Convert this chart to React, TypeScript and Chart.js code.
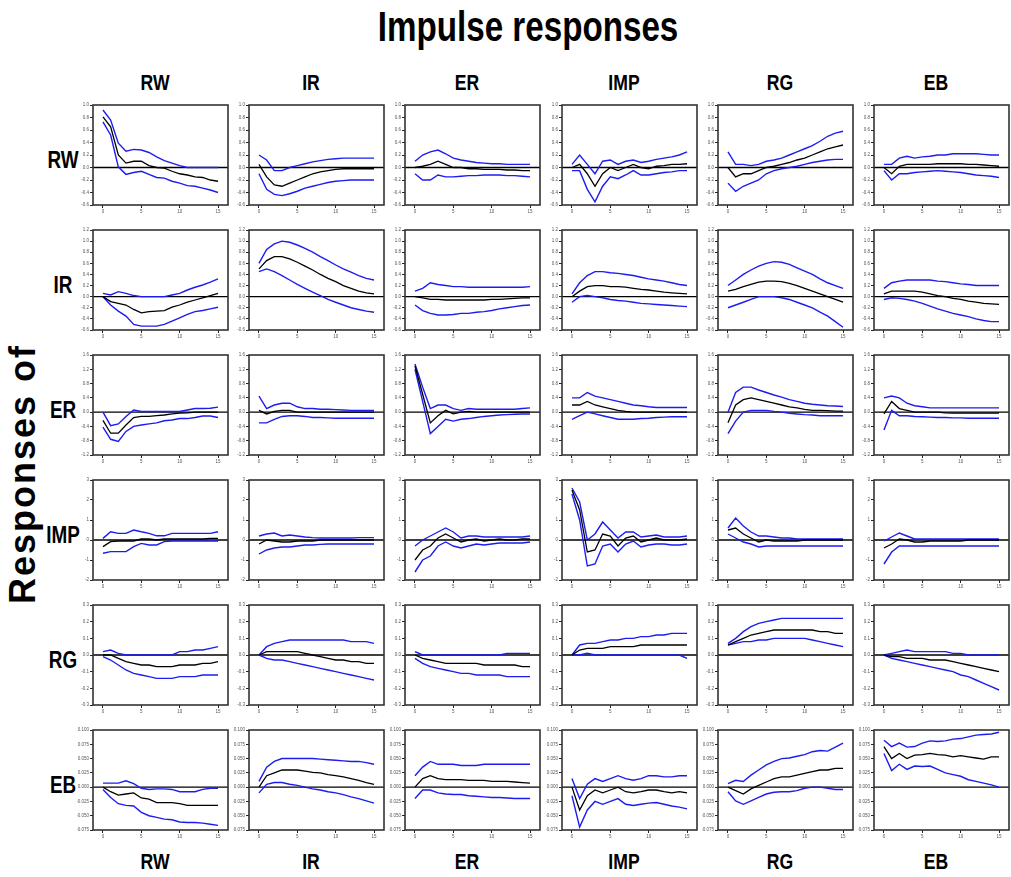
import React, { useEffect, useRef } from "react";
import { Chart, registerables } from "chart.js";
Chart.register(...registerables);

// ---------- labels / ticks ----------
const variables = ["RW", "IR", "ER", "IMP", "RG", "EB"];
const steps = [0, 1, 2, 3, 4, 5, 6, 7, 8, 9, 10, 11, 12, 13, 14, 15];
const xTickValues = [0, 5, 10, 15];
const yTicksRW = [-0.6, -0.4, -0.2, 0, 0.2, 0.4, 0.6, 0.8, 1.0];
const yTicksIR = [-0.6, -0.4, -0.2, 0, 0.2, 0.4, 0.6, 0.8, 1.0, 1.2];
const yTicksER = [-1.2, -0.8, -0.4, 0, 0.4, 0.8, 1.2, 1.6];
const yTicksIMP = [-2, -1, 0, 1, 2, 3];
const yTicksRG = [-0.3, -0.2, -0.1, 0, 0.1, 0.2, 0.3];
const yTicksEB = [-0.075, -0.05, -0.025, 0, 0.025, 0.05, 0.075, 0.1];
const yTickDecimals = [1, 1, 1, 0, 1, 3];

// ---------- responses of RW ----------
const RW_RW_hi = [0.92, 0.76, 0.39, 0.26, 0.29, 0.28, 0.24, 0.17, 0.11, 0.07, 0.03, 0, 0, 0, 0, 0];
const RW_RW_mid = [0.81, 0.65, 0.2, 0.07, 0.1, 0.1, 0.03, 0, -0.01, -0.06, -0.1, -0.12, -0.15, -0.16, -0.2, -0.22];
const RW_RW_lo = [0.73, 0.52, 0.01, -0.11, -0.08, -0.06, -0.11, -0.16, -0.17, -0.22, -0.25, -0.29, -0.3, -0.33, -0.36, -0.4];
const RW_IR_hi = [0.2, 0.12, -0.05, -0.05, 0, 0.03, 0.06, 0.09, 0.11, 0.13, 0.14, 0.15, 0.15, 0.15, 0.15, 0.15];
const RW_IR_mid = [0.05, -0.15, -0.28, -0.3, -0.25, -0.2, -0.15, -0.1, -0.07, -0.05, -0.03, -0.02, -0.02, -0.02, -0.02, -0.02];
const RW_IR_lo = [-0.1, -0.35, -0.43, -0.45, -0.42, -0.38, -0.33, -0.3, -0.27, -0.24, -0.22, -0.21, -0.2, -0.2, -0.2, -0.2];
const RW_ER_hi = [0.1, 0.2, 0.25, 0.28, 0.22, 0.15, 0.12, 0.1, 0.08, 0.07, 0.06, 0.06, 0.05, 0.05, 0.05, 0.05];
const RW_ER_mid = [0, 0.02, 0.05, 0.1, 0.05, 0, 0, -0.02, -0.02, -0.03, -0.03, -0.03, -0.04, -0.04, -0.05, -0.05];
const RW_ER_lo = [-0.1, -0.2, -0.2, -0.12, -0.15, -0.15, -0.14, -0.13, -0.13, -0.12, -0.12, -0.12, -0.13, -0.13, -0.14, -0.15];
const RW_IMP_hi = [0.05, 0.2, 0.05, -0.1, 0.1, 0.12, 0.05, 0.1, 0.12, 0.08, 0.1, 0.13, 0.15, 0.17, 0.2, 0.25];
const RW_IMP_mid = [0, 0.05, -0.1, -0.3, -0.1, 0, -0.05, 0, 0.05, 0, -0.02, 0.02, 0.03, 0.05, 0.05, 0.06];
const RW_IMP_lo = [-0.05, -0.05, -0.35, -0.55, -0.3, -0.15, -0.18, -0.12, -0.05, -0.12, -0.12, -0.1, -0.08, -0.07, -0.05, -0.05];
const RW_RG_hi = [0.25, 0.05, 0.05, 0.03, 0.05, 0.1, 0.12, 0.15, 0.2, 0.25, 0.3, 0.35, 0.42, 0.5, 0.55, 0.58];
const RW_RG_mid = [0, -0.15, -0.1, -0.1, -0.05, 0, 0.02, 0.05, 0.08, 0.12, 0.15, 0.2, 0.25, 0.3, 0.33, 0.36];
const RW_RG_lo = [-0.25, -0.38, -0.3, -0.25, -0.2, -0.1, -0.05, -0.02, 0, 0.02, 0.05, 0.08, 0.1, 0.12, 0.13, 0.13];
const RW_EB_hi = [0.05, 0.05, 0.15, 0.18, 0.15, 0.17, 0.18, 0.2, 0.2, 0.22, 0.22, 0.22, 0.22, 0.21, 0.2, 0.2];
const RW_EB_mid = [0, -0.1, 0.02, 0.05, 0.05, 0.05, 0.05, 0.06, 0.06, 0.06, 0.06, 0.05, 0.05, 0.04, 0.03, 0.02];
const RW_EB_lo = [-0.05, -0.2, -0.1, -0.1, -0.08, -0.07, -0.06, -0.05, -0.06, -0.07, -0.08, -0.1, -0.12, -0.13, -0.14, -0.16];

// ---------- responses of IR ----------
const IR_RW_hi = [0.06, 0.03, 0.09, 0.06, 0.02, 0, 0, 0, 0, 0.03, 0.06, 0.12, 0.17, 0.21, 0.26, 0.32];
const IR_RW_mid = [0, -0.09, -0.12, -0.15, -0.23, -0.29, -0.27, -0.26, -0.25, -0.19, -0.15, -0.1, -0.06, -0.02, 0.02, 0.06];
const IR_RW_lo = [0, -0.15, -0.26, -0.35, -0.5, -0.53, -0.53, -0.53, -0.5, -0.44, -0.38, -0.32, -0.27, -0.25, -0.22, -0.19];
const IR_IR_hi = [0.6, 0.85, 0.95, 1.0, 0.98, 0.93, 0.87, 0.8, 0.72, 0.65, 0.57, 0.5, 0.44, 0.38, 0.33, 0.3];
const IR_IR_mid = [0.5, 0.65, 0.72, 0.72, 0.68, 0.62, 0.55, 0.48, 0.4, 0.33, 0.27, 0.2, 0.15, 0.1, 0.07, 0.05];
const IR_IR_lo = [0.45, 0.5, 0.45, 0.38, 0.3, 0.22, 0.15, 0.08, 0.02, -0.05, -0.1, -0.15, -0.2, -0.23, -0.26, -0.28];
const IR_ER_hi = [0.1, 0.15, 0.25, 0.22, 0.2, 0.18, 0.18, 0.17, 0.17, 0.17, 0.17, 0.17, 0.17, 0.17, 0.17, 0.18];
const IR_ER_mid = [0, -0.02, -0.05, -0.05, -0.06, -0.06, -0.06, -0.06, -0.06, -0.06, -0.05, -0.05, -0.04, -0.03, -0.02, -0.02];
const IR_ER_lo = [-0.15, -0.25, -0.3, -0.33, -0.33, -0.32, -0.3, -0.3, -0.28, -0.27, -0.25, -0.22, -0.2, -0.18, -0.16, -0.15];
const IR_IMP_hi = [0.05, 0.25, 0.38, 0.45, 0.45, 0.43, 0.42, 0.4, 0.38, 0.35, 0.32, 0.3, 0.28, 0.25, 0.22, 0.2];
const IR_IMP_mid = [0, 0.1, 0.18, 0.2, 0.2, 0.18, 0.18, 0.17, 0.15, 0.13, 0.12, 0.1, 0.08, 0.07, 0.06, 0.05];
const IR_IMP_lo = [-0.1, 0, 0.02, 0, -0.02, -0.05, -0.07, -0.08, -0.1, -0.12, -0.13, -0.14, -0.15, -0.16, -0.17, -0.18];
const IR_RG_hi = [0.2, 0.3, 0.4, 0.48, 0.55, 0.6, 0.63, 0.62, 0.58, 0.52, 0.46, 0.4, 0.32, 0.25, 0.2, 0.15];
const IR_RG_mid = [0.1, 0.13, 0.18, 0.22, 0.26, 0.28, 0.28, 0.27, 0.24, 0.2, 0.15, 0.1, 0.05, 0, -0.05, -0.1];
const IR_RG_lo = [-0.2, -0.15, -0.1, -0.05, 0, 0, 0, -0.02, -0.05, -0.1, -0.15, -0.2, -0.28, -0.35, -0.45, -0.55];
const IR_EB_hi = [0.15, 0.25, 0.28, 0.3, 0.3, 0.3, 0.3, 0.28, 0.27, 0.25, 0.23, 0.22, 0.2, 0.2, 0.2, 0.2];
const IR_EB_mid = [0.05, 0.1, 0.1, 0.1, 0.1, 0.08, 0.05, 0.02, 0, -0.03, -0.05, -0.08, -0.1, -0.12, -0.13, -0.14];
const IR_EB_lo = [-0.05, -0.02, -0.03, -0.05, -0.08, -0.12, -0.17, -0.22, -0.26, -0.3, -0.33, -0.36, -0.4, -0.43, -0.45, -0.45];

// ---------- responses of ER ----------
const ER_RW_hi = [0, -0.38, -0.33, -0.12, 0.06, 0.02, 0.02, 0.02, 0.02, 0.02, 0.02, 0.06, 0.1, 0.1, 0.11, 0.14];
const ER_RW_mid = [-0.23, -0.59, -0.59, -0.36, -0.15, -0.12, -0.12, -0.1, -0.08, -0.05, -0.03, -0.02, 0, 0, 0, 0];
const ER_RW_lo = [-0.42, -0.76, -0.82, -0.54, -0.4, -0.36, -0.33, -0.3, -0.24, -0.22, -0.18, -0.18, -0.15, -0.11, -0.11, -0.15];
const ER_IR_hi = [0.45, 0.1, 0.2, 0.25, 0.25, 0.15, 0.1, 0.1, 0.08, 0.08, 0.07, 0.06, 0.05, 0.05, 0.05, 0.05];
const ER_IR_mid = [0.05, -0.05, 0.02, 0.05, 0.05, 0, 0, 0, 0, 0, 0, 0, 0, 0, 0, 0];
const ER_IR_lo = [-0.3, -0.3, -0.2, -0.12, -0.1, -0.1, -0.12, -0.15, -0.15, -0.16, -0.17, -0.17, -0.17, -0.17, -0.17, -0.17];
const ER_ER_hi = [1.35, 0.7, 0.1, 0.2, 0.2, 0.1, 0.05, 0.1, 0.08, 0.08, 0.08, 0.08, 0.08, 0.08, 0.1, 0.12];
const ER_ER_mid = [1.3, 0.5, -0.3, -0.1, 0.05, -0.05, 0, 0.02, 0, 0, 0, 0, 0, 0, 0, 0];
const ER_ER_lo = [1.2, 0.3, -0.6, -0.4, -0.2, -0.25, -0.2, -0.18, -0.15, -0.12, -0.1, -0.08, -0.07, -0.06, -0.05, -0.05];
const ER_IMP_hi = [0.4, 0.4, 0.55, 0.45, 0.4, 0.35, 0.3, 0.25, 0.2, 0.18, 0.15, 0.13, 0.13, 0.13, 0.13, 0.13];
const ER_IMP_mid = [0.2, 0.2, 0.3, 0.2, 0.15, 0.1, 0.05, 0.02, 0, 0, 0, 0, 0, 0, 0, 0];
const ER_IMP_lo = [-0.2, -0.1, 0, -0.05, -0.1, -0.15, -0.2, -0.2, -0.2, -0.18, -0.17, -0.15, -0.14, -0.13, -0.13, -0.13];
const ER_RG_hi = [0, 0.55, 0.7, 0.7, 0.62, 0.55, 0.48, 0.42, 0.35, 0.3, 0.25, 0.22, 0.2, 0.18, 0.17, 0.16];
const ER_RG_mid = [-0.3, 0.2, 0.35, 0.4, 0.35, 0.3, 0.25, 0.2, 0.15, 0.12, 0.08, 0.05, 0.05, 0.04, 0.03, 0.03];
const ER_RG_lo = [-0.6, -0.25, 0, 0.05, 0.05, 0.05, 0.02, 0, -0.03, -0.05, -0.07, -0.08, -0.1, -0.1, -0.1, -0.1];
const ER_EB_hi = [0.4, 0.45, 0.4, 0.25, 0.18, 0.15, 0.12, 0.12, 0.12, 0.12, 0.12, 0.12, 0.12, 0.12, 0.12, 0.12];
const ER_EB_mid = [-0.05, 0.3, 0.1, 0.05, 0, 0, 0, 0, -0.02, -0.03, -0.03, -0.03, -0.03, -0.03, -0.03, -0.03];
const ER_EB_lo = [-0.5, 0.05, -0.1, -0.1, -0.12, -0.13, -0.14, -0.15, -0.15, -0.16, -0.16, -0.17, -0.17, -0.17, -0.17, -0.17];

// ---------- responses of IMP ----------
const IMP_RW_hi = [0.08, 0.41, 0.33, 0.33, 0.5, 0.41, 0.33, 0.21, 0.21, 0.33, 0.33, 0.33, 0.33, 0.33, 0.33, 0.41];
const IMP_RW_mid = [-0.33, -0.08, -0.05, -0.05, -0.05, 0.05, 0.05, 0, 0.05, 0.05, 0.05, 0.05, 0.05, 0.05, 0.08, 0.08];
const IMP_RW_lo = [-0.66, -0.58, -0.58, -0.58, -0.33, -0.17, -0.25, -0.25, -0.08, -0.05, -0.05, -0.05, -0.05, -0.05, -0.05, -0.05];
const IMP_IR_hi = [0.2, 0.3, 0.35, 0.2, 0.25, 0.2, 0.15, 0.12, 0.1, 0.1, 0.1, 0.1, 0.1, 0.12, 0.12, 0.12];
const IMP_IR_mid = [-0.2, 0, -0.05, -0.1, -0.1, -0.05, -0.05, -0.05, 0, 0, 0, 0, 0, 0, 0, 0];
const IMP_IR_lo = [-0.7, -0.5, -0.4, -0.35, -0.35, -0.3, -0.25, -0.25, -0.22, -0.2, -0.2, -0.2, -0.2, -0.2, -0.2, -0.2];
const IMP_ER_hi = [-0.3, 0, 0.2, 0.4, 0.6, 0.4, 0.1, 0.2, 0.2, 0.15, 0.15, 0.15, 0.15, 0.15, 0.15, 0.2];
const IMP_ER_mid = [-1.0, -0.5, -0.3, 0.1, 0.3, 0.1, -0.1, 0, 0.05, -0.05, 0, 0.05, 0, 0, 0.05, 0.05];
const IMP_ER_lo = [-1.6, -1.0, -0.8, -0.3, -0.1, -0.3, -0.4, -0.3, -0.2, -0.25, -0.2, -0.15, -0.15, -0.15, -0.15, -0.1];
const IMP_IMP_hi = [2.6, 1.9, 0, 0.3, 0.9, 0.5, 0.1, 0.4, 0.4, 0.15, 0.2, 0.25, 0.15, 0.15, 0.15, 0.2];
const IMP_IMP_mid = [2.5, 1.5, -0.6, -0.5, 0.3, 0.2, -0.3, 0.1, 0.2, -0.1, 0, 0.1, 0, 0, 0, 0.05];
const IMP_IMP_lo = [2.3, 1.0, -1.3, -1.2, -0.3, -0.2, -0.6, -0.2, -0.05, -0.35, -0.25, -0.2, -0.2, -0.25, -0.25, -0.2];
const IMP_RG_hi = [0.6, 1.1, 0.7, 0.4, 0.2, 0.2, 0.15, 0.1, 0.1, 0.05, 0.05, 0.05, 0.05, 0.05, 0.05, 0.05];
const IMP_RG_mid = [0.5, 0.6, 0.3, 0.1, -0.1, 0, -0.05, -0.05, -0.05, -0.05, 0, 0, 0, 0, 0, 0];
const IMP_RG_lo = [0.3, 0.1, -0.1, -0.2, -0.35, -0.3, -0.3, -0.3, -0.3, -0.3, -0.3, -0.3, -0.3, -0.3, -0.3, -0.3];
const IMP_EB_hi = [-0.05, 0.15, 0.35, 0.2, 0.05, 0.05, 0.05, 0.05, 0.05, 0.05, 0.05, 0.05, 0.05, 0.05, 0.05, 0.05];
const IMP_EB_mid = [-0.4, -0.2, 0.05, 0, -0.1, -0.1, -0.05, -0.05, -0.05, -0.05, -0.05, 0, 0, 0, 0, 0];
const IMP_EB_lo = [-1.2, -0.6, -0.3, -0.3, -0.3, -0.3, -0.3, -0.3, -0.3, -0.3, -0.3, -0.3, -0.3, -0.3, -0.3, -0.3];

// ---------- responses of RG ----------
const RG_RW_hi = [0.02, 0.03, 0.01, 0, 0, 0, 0, 0, 0, 0, 0.02, 0.02, 0.03, 0.03, 0.04, 0.05];
const RG_RW_mid = [0, 0, -0.02, -0.04, -0.05, -0.06, -0.06, -0.07, -0.07, -0.07, -0.06, -0.06, -0.06, -0.05, -0.05, -0.04];
const RG_RW_lo = [-0.01, -0.03, -0.06, -0.09, -0.11, -0.12, -0.13, -0.14, -0.14, -0.14, -0.13, -0.13, -0.13, -0.12, -0.12, -0.12];
const RG_IR_hi = [0, 0.05, 0.07, 0.08, 0.09, 0.09, 0.09, 0.09, 0.09, 0.09, 0.09, 0.09, 0.08, 0.08, 0.08, 0.07];
const RG_IR_mid = [0, 0.02, 0.02, 0.02, 0.02, 0.02, 0.01, 0, -0.01, -0.02, -0.03, -0.03, -0.04, -0.04, -0.05, -0.05];
const RG_IR_lo = [0, -0.02, -0.03, -0.03, -0.04, -0.05, -0.06, -0.07, -0.08, -0.09, -0.1, -0.11, -0.12, -0.13, -0.14, -0.15];
const RG_ER_hi = [0.02, 0, 0, 0, 0, 0, 0, 0, 0, 0, 0, 0, 0.01, 0.01, 0.01, 0.01];
const RG_ER_mid = [0, -0.02, -0.03, -0.04, -0.05, -0.05, -0.05, -0.05, -0.05, -0.06, -0.06, -0.06, -0.06, -0.06, -0.07, -0.07];
const RG_ER_lo = [-0.02, -0.05, -0.07, -0.08, -0.09, -0.1, -0.11, -0.11, -0.12, -0.12, -0.12, -0.12, -0.13, -0.13, -0.13, -0.13];
const RG_IMP_hi = [0, 0.06, 0.07, 0.07, 0.08, 0.09, 0.09, 0.1, 0.1, 0.11, 0.11, 0.12, 0.12, 0.13, 0.13, 0.13];
const RG_IMP_mid = [0, 0.03, 0.04, 0.04, 0.04, 0.05, 0.05, 0.05, 0.05, 0.06, 0.06, 0.06, 0.06, 0.06, 0.06, 0.06];
const RG_IMP_lo = [0, 0, 0.01, 0, 0, 0, 0, 0, 0, 0, 0, 0, 0, 0, 0, -0.02];
const RG_RG_hi = [0.07, 0.1, 0.14, 0.17, 0.19, 0.2, 0.21, 0.22, 0.22, 0.22, 0.22, 0.22, 0.22, 0.22, 0.22, 0.22];
const RG_RG_mid = [0.06, 0.08, 0.1, 0.12, 0.13, 0.14, 0.15, 0.15, 0.15, 0.15, 0.15, 0.15, 0.14, 0.14, 0.13, 0.13];
const RG_RG_lo = [0.06, 0.07, 0.08, 0.08, 0.09, 0.09, 0.1, 0.1, 0.1, 0.1, 0.1, 0.09, 0.08, 0.07, 0.06, 0.05];
const RG_EB_hi = [0, 0.01, 0.02, 0.03, 0.02, 0.02, 0.02, 0.02, 0.02, 0.01, 0.01, 0, 0, 0, 0, 0];
const RG_EB_mid = [0, -0.01, -0.01, -0.02, -0.02, -0.02, -0.03, -0.03, -0.03, -0.04, -0.05, -0.06, -0.07, -0.08, -0.09, -0.1];
const RG_EB_lo = [0, -0.02, -0.03, -0.04, -0.05, -0.06, -0.07, -0.08, -0.09, -0.1, -0.12, -0.13, -0.15, -0.17, -0.19, -0.21];

// ---------- responses of EB ----------
const EB_RW_hi = [0.007, 0.007, 0.007, 0.011, 0.006, -0.002, -0.004, -0.003, -0.003, -0.004, -0.008, -0.008, -0.008, -0.004, -0.002, -0.002];
const EB_RW_mid = [0, -0.008, -0.014, -0.012, -0.01, -0.019, -0.021, -0.027, -0.027, -0.027, -0.029, -0.032, -0.032, -0.032, -0.032, -0.032];
const EB_RW_lo = [-0.004, -0.018, -0.029, -0.032, -0.033, -0.044, -0.05, -0.053, -0.056, -0.057, -0.061, -0.062, -0.062, -0.063, -0.065, -0.067];
const EB_IR_hi = [0.01, 0.035, 0.045, 0.05, 0.05, 0.05, 0.05, 0.05, 0.049, 0.048, 0.047, 0.046, 0.045, 0.045, 0.043, 0.04];
const EB_IR_mid = [0, 0.02, 0.025, 0.03, 0.03, 0.03, 0.028, 0.026, 0.025, 0.022, 0.02, 0.018, 0.015, 0.012, 0.008, 0.005];
const EB_IR_lo = [-0.01, 0.005, 0.008, 0.008, 0.005, 0.003, 0, -0.003, -0.005, -0.008, -0.01, -0.013, -0.017, -0.02, -0.024, -0.028];
const EB_ER_hi = [0.02, 0.035, 0.045, 0.04, 0.04, 0.04, 0.038, 0.038, 0.038, 0.04, 0.04, 0.04, 0.04, 0.04, 0.04, 0.04];
const EB_ER_mid = [0, 0.015, 0.02, 0.015, 0.013, 0.013, 0.013, 0.012, 0.012, 0.012, 0.01, 0.01, 0.01, 0.009, 0.008, 0.007];
const EB_ER_lo = [-0.02, -0.005, -0.005, -0.01, -0.012, -0.013, -0.013, -0.015, -0.016, -0.017, -0.018, -0.018, -0.019, -0.02, -0.02, -0.02];
const EB_IMP_hi = [0.015, -0.02, 0.005, 0.015, 0.01, 0.015, 0.02, 0.015, 0.012, 0.015, 0.02, 0.02, 0.018, 0.018, 0.02, 0.02];
const EB_IMP_mid = [0, -0.04, -0.015, -0.005, -0.01, -0.005, 0, -0.008, -0.01, -0.008, -0.005, -0.005, -0.008, -0.01, -0.008, -0.01];
const EB_IMP_lo = [-0.015, -0.07, -0.04, -0.025, -0.03, -0.025, -0.02, -0.03, -0.032, -0.03, -0.028, -0.027, -0.03, -0.033, -0.035, -0.038];
const EB_RG_hi = [0.006, 0.012, 0.01, 0.021, 0.03, 0.039, 0.045, 0.05, 0.051, 0.054, 0.057, 0.062, 0.064, 0.063, 0.07, 0.077];
const EB_RG_mid = [0, -0.006, -0.012, -0.003, 0.003, 0.009, 0.015, 0.018, 0.018, 0.021, 0.024, 0.027, 0.03, 0.03, 0.033, 0.033];
const EB_RG_lo = [-0.008, -0.024, -0.03, -0.024, -0.018, -0.012, -0.009, -0.008, -0.008, -0.006, -0.002, 0, 0, -0.002, -0.004, -0.004];
const EB_EB_hi = [0.082, 0.071, 0.077, 0.07, 0.071, 0.077, 0.081, 0.08, 0.081, 0.084, 0.085, 0.088, 0.091, 0.092, 0.093, 0.096];
const EB_EB_mid = [0.071, 0.05, 0.059, 0.05, 0.056, 0.057, 0.059, 0.057, 0.056, 0.053, 0.055, 0.053, 0.051, 0.049, 0.053, 0.053];
const EB_EB_lo = [0.059, 0.029, 0.04, 0.031, 0.037, 0.036, 0.037, 0.031, 0.025, 0.022, 0.019, 0.013, 0.01, 0.007, 0.004, 0];

// ---------- tables built from the arrays ----------
const rowTicks = [yTicksRW, yTicksIR, yTicksER, yTicksIMP, yTicksRG, yTicksEB];
const panelSeries: number[][][][] = [
  [[RW_RW_hi, RW_RW_mid, RW_RW_lo], [RW_IR_hi, RW_IR_mid, RW_IR_lo], [RW_ER_hi, RW_ER_mid, RW_ER_lo], [RW_IMP_hi, RW_IMP_mid, RW_IMP_lo], [RW_RG_hi, RW_RG_mid, RW_RG_lo], [RW_EB_hi, RW_EB_mid, RW_EB_lo]],
  [[IR_RW_hi, IR_RW_mid, IR_RW_lo], [IR_IR_hi, IR_IR_mid, IR_IR_lo], [IR_ER_hi, IR_ER_mid, IR_ER_lo], [IR_IMP_hi, IR_IMP_mid, IR_IMP_lo], [IR_RG_hi, IR_RG_mid, IR_RG_lo], [IR_EB_hi, IR_EB_mid, IR_EB_lo]],
  [[ER_RW_hi, ER_RW_mid, ER_RW_lo], [ER_IR_hi, ER_IR_mid, ER_IR_lo], [ER_ER_hi, ER_ER_mid, ER_ER_lo], [ER_IMP_hi, ER_IMP_mid, ER_IMP_lo], [ER_RG_hi, ER_RG_mid, ER_RG_lo], [ER_EB_hi, ER_EB_mid, ER_EB_lo]],
  [[IMP_RW_hi, IMP_RW_mid, IMP_RW_lo], [IMP_IR_hi, IMP_IR_mid, IMP_IR_lo], [IMP_ER_hi, IMP_ER_mid, IMP_ER_lo], [IMP_IMP_hi, IMP_IMP_mid, IMP_IMP_lo], [IMP_RG_hi, IMP_RG_mid, IMP_RG_lo], [IMP_EB_hi, IMP_EB_mid, IMP_EB_lo]],
  [[RG_RW_hi, RG_RW_mid, RG_RW_lo], [RG_IR_hi, RG_IR_mid, RG_IR_lo], [RG_ER_hi, RG_ER_mid, RG_ER_lo], [RG_IMP_hi, RG_IMP_mid, RG_IMP_lo], [RG_RG_hi, RG_RG_mid, RG_RG_lo], [RG_EB_hi, RG_EB_mid, RG_EB_lo]],
  [[EB_RW_hi, EB_RW_mid, EB_RW_lo], [EB_IR_hi, EB_IR_mid, EB_IR_lo], [EB_ER_hi, EB_ER_mid, EB_ER_lo], [EB_IMP_hi, EB_IMP_mid, EB_IMP_lo], [EB_RG_hi, EB_RG_mid, EB_RG_lo], [EB_EB_hi, EB_EB_mid, EB_EB_lo]],
];

// ---------- layout ----------
const BOX_W = 135;
const BOX_H = 100;
const COL_LEFT0 = 93;
const COL_PITCH = 156.2;
const ROW_TOP0 = 105;
const ROW_PITCH = 125;
const Y_AXIS_W = 16;
const X_AXIS_H = 12;
const PAD_T = 4;
const PAD_R = 4;
const BLUE = "#1c1cf0";
const FONT = "'Liberation Sans', Arial, sans-serif";

const framePlugin = {
  id: "frame",
  beforeDatasetsDraw(chart: any) {
    const { ctx, chartArea: a, scales } = chart;
    const y0 = scales.y.getPixelForValue(0);
    ctx.save();
    ctx.strokeStyle = "#000";
    ctx.lineWidth = 1.4;
    ctx.beginPath();
    ctx.moveTo(a.left, y0);
    ctx.lineTo(a.right, y0);
    ctx.stroke();
    ctx.restore();
  },
  afterDraw(chart: any) {
    const { ctx, chartArea: a } = chart;
    ctx.save();
    ctx.strokeStyle = "#333";
    ctx.lineWidth = 1.6;
    ctx.strokeRect(a.left, a.top, a.right - a.left, a.bottom - a.top);
    ctx.restore();
  },
};

function Panel({ r, c }: { r: number; c: number }) {
  const ref = useRef<HTMLCanvasElement>(null);
  const boxLeft = Math.round(COL_LEFT0 + COL_PITCH * c);
  const boxTop = ROW_TOP0 + ROW_PITCH * r;
  const W = Y_AXIS_W + BOX_W + PAD_R;
  const H = PAD_T + BOX_H + X_AXIS_H;
  useEffect(() => {
    const [hi, mid, lo] = panelSeries[r][c];
    const ticks = rowTicks[r];
    const dec = yTickDecimals[r];
    const toPts = (arr: number[]) => steps.map((s, i) => ({ x: s, y: arr[i] }));
    const line = (arr: number[], color: string, w: number) => ({
      data: toPts(arr),
      borderColor: color,
      borderWidth: w,
      pointRadius: 0,
      tension: 0,
      fill: false,
    });
    const tickFont = { size: 4.5, family: FONT };
    const chart = new Chart(ref.current as HTMLCanvasElement, {
      type: "line",
      data: { datasets: [line(mid, "#000", 1.3), line(hi, BLUE, 1.4), line(lo, BLUE, 1.4)] as any },
      options: {
        animation: false,
        responsive: false,
        maintainAspectRatio: false,
        events: [],
        layout: { padding: { top: PAD_T, right: PAD_R, left: 0, bottom: 0 } },
        plugins: { legend: { display: false }, tooltip: { enabled: false }, title: { display: false } },
        scales: {
          x: {
            type: "linear",
            min: -1.3,
            max: 16.3,
            afterBuildTicks: (ax: any) => {
              ax.ticks = xTickValues.map((v) => ({ value: v }));
            },
            afterFit: (ax: any) => {
              ax.height = X_AXIS_H;
              ax.paddingLeft = 0;
              ax.paddingRight = 0;
            },
            ticks: { font: tickFont, color: "#555", padding: 1, maxRotation: 0, autoSkip: false, callback: (v: any) => String(v) },
            grid: { drawOnChartArea: false, drawTicks: true, tickLength: 3, color: "#222", lineWidth: 1 },
            border: { display: false },
          },
          y: {
            type: "linear",
            min: ticks[0],
            max: ticks[ticks.length - 1],
            afterBuildTicks: (ax: any) => {
              ax.ticks = ticks.map((v) => ({ value: v }));
            },
            afterFit: (ax: any) => {
              ax.width = Y_AXIS_W;
              ax.paddingTop = 0;
              ax.paddingBottom = 0;
            },
            ticks: { font: tickFont, color: "#555", padding: 1, autoSkip: false, callback: (v: any) => Number(v).toFixed(dec) },
            grid: { drawOnChartArea: false, drawTicks: true, tickLength: 3, color: "#222", lineWidth: 1 },
            border: { display: false },
          },
        },
      } as any,
      plugins: [framePlugin],
    });
    return () => chart.destroy();
  }, [r, c]);
  return (
    <canvas
      ref={ref}
      width={W}
      height={H}
      style={{ position: "absolute", left: boxLeft - Y_AXIS_W, top: boxTop - PAD_T, width: W, height: H }}
    />
  );
}

function Label({ text, x, y, size, sx = 0.8, rotate = 0, spacing = 0 }: any) {
  return (
    <div
      style={{
        position: "absolute",
        left: x,
        top: y,
        transform: `translate(-50%, -50%) rotate(${rotate}deg) scaleX(${sx})`,
        fontFamily: FONT,
        fontWeight: "bold",
        fontSize: size,
        lineHeight: 1,
        whiteSpace: "nowrap",
        letterSpacing: spacing,
        color: "#000",
      }}
    >
      {text}
    </div>
  );
}

export default function App() {
  const colCenters = variables.map((_, c) => Math.round(COL_LEFT0 + COL_PITCH * c) + BOX_W / 2 - 6);
  return (
    <div style={{ position: "absolute", left: 0, top: 0, width: 1011, height: 877, background: "#fff", overflow: "hidden" }}>
      <Label text="Impulse responses" x={528} y={27} size={42} sx={0.79} />
      {variables.map((v, c) => (
        <Label key={"t" + v} text={v} x={colCenters[c]} y={83} size={22} />
      ))}
      {variables.map((v, c) => (
        <Label key={"b" + v} text={v} x={colCenters[c]} y={862} size={22} />
      ))}
      {variables.map((v, r) => (
        <Label key={"r" + v} text={v} x={63} y={ROW_TOP0 + ROW_PITCH * r + 55} size={23} sx={0.82} />
      ))}
      <Label text="Responses of" x={23} y={474} size={36} sx={1} rotate={-90} spacing={2} />
      {variables.map((_, r) => variables.map((__, c) => <Panel key={r + "-" + c} r={r} c={c} />))}
    </div>
  );
}
